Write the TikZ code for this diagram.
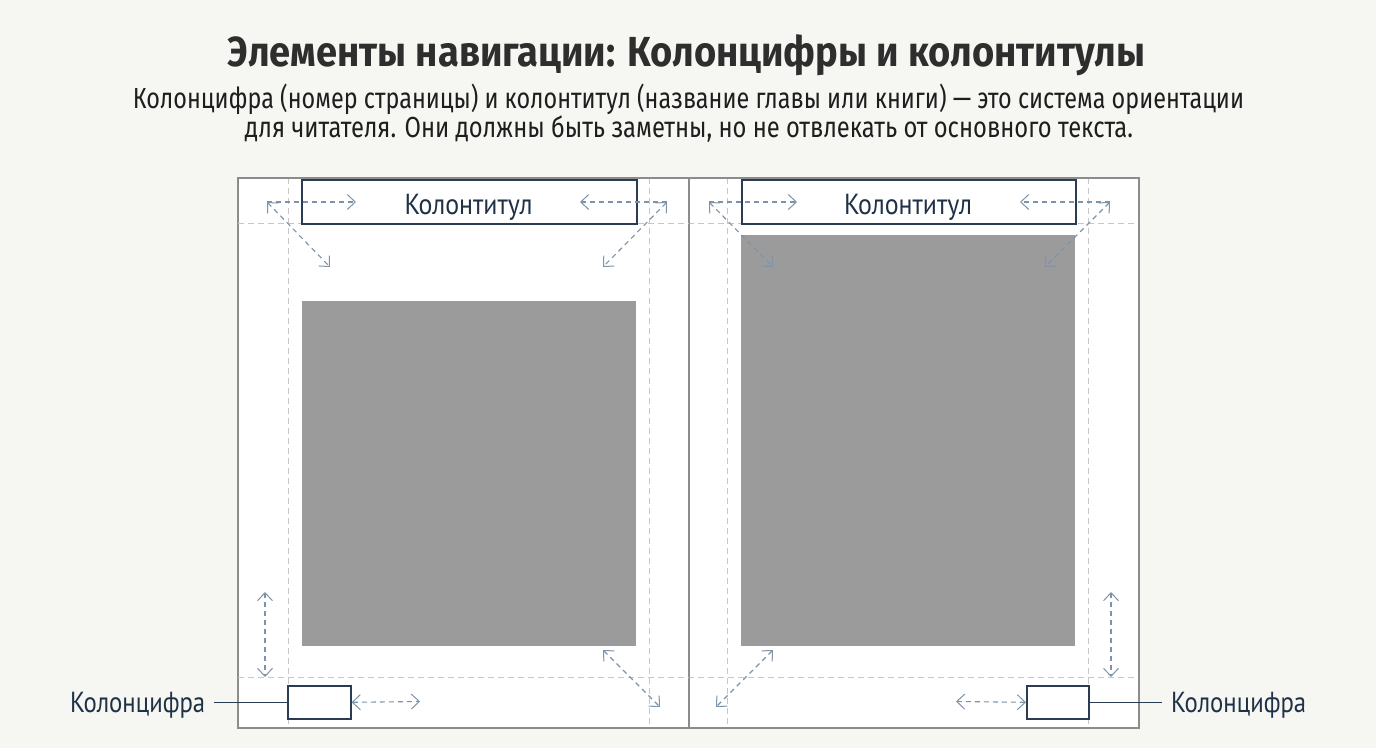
\documentclass[tikz,border=0pt]{standalone}
\usepackage{fontspec}
\setmainfont{Fira Sans}
\newfontfamily\labfont{PT Sans}
\usetikzlibrary{arrows.meta}
\definecolor{bgc}{HTML}{F6F6F3}
\definecolor{titlec}{HTML}{2E2E2E}
\definecolor{subc}{HTML}{1E1E1E}
\definecolor{navy}{HTML}{2A3C52}
\definecolor{labc}{HTML}{1F3146}
\definecolor{pagec}{HTML}{8C8C8C}
\definecolor{guidec}{HTML}{C6C6C6}
\definecolor{arrowc}{HTML}{7E93A8}
\definecolor{blockc}{HTML}{9B9B9B}
\newcommand{\fitw}[2]{\resizebox{#1}{\height}{#2}}
\begin{document}
\begin{tikzpicture}[x=1pt,y=-1pt,
  pagebox/.style={draw=pagec, line width=1.4pt, fill=white, anchor=north west, inner sep=0pt},
  navybox/.style={draw=navy, line width=1.8pt, fill=white, anchor=north west, inner sep=0pt},
  textblock/.style={fill=blockc, anchor=north west, inner sep=0pt},
  guide/.style={draw=guidec, line width=0.9pt, dash pattern=on 6pt off 4pt},
  dimarrow/.style={draw=arrowc, line width=1.1pt, dash pattern=on 5pt off 4pt,
    arrows={Straight Barb[length=8pt,width=15pt,line width=1pt]-Straight Barb[length=8pt,width=15pt,line width=1pt]}},
  onearrow/.style={draw=arrowc, line width=1.1pt, dash pattern=on 5pt off 4pt,
    arrows={-Straight Barb[length=8pt,width=15pt,line width=1pt]}},
  lbl/.style={text=labc, font=\labfont\fontsize{29}{32}\selectfont, inner sep=0pt},
  leader/.style={draw=navy, line width=1.2pt}
]
\useasboundingbox (0,0) rectangle (1376,748);
\fill[bgc] (0,0) rectangle (1376,748);

% title and subtitle
\node[anchor=base, text=titlec, font=\bfseries\fontsize{42}{46}\selectfont, inner sep=0pt] (title) at (686.5,66)
  {\fitw{917pt}{Элементы навигации: Колонцифры и колонтитулы}};
\node[anchor=base, text=subc, font=\fontsize{29}{32}\selectfont, inner sep=0pt] (sub1) at (688.5,108)
  {\fitw{1111pt}{Колонцифра (номер страницы) и колонтитул (название главы или книги) — это система ориентации}};
\node[anchor=base, text=subc, font=\fontsize{29}{32}\selectfont, inner sep=0pt] (sub2) at (689,137)
  {\fitw{888pt}{для читателя. Они должны быть заметны, но не отвлекать от основного текста.}};

% pages
\node[pagebox, minimum width=450.5pt, minimum height=549pt] (lp) at (237.5,178) {};
\node[pagebox, minimum width=450pt, minimum height=549pt] (rp) at (688,178) {};

% guides left page
\draw[guide] (288,178) -- (288,727);
\draw[guide] (649,178) -- (649,727);
\draw[guide] (238,223) -- (688,223);
\draw[guide] (238,677) -- (688,677);
% guides right page
\draw[guide] (727,178) -- (727,727);
\draw[guide] (1088,178) -- (1088,727);
\draw[guide] (688,223) -- (1138,223);
\draw[guide] (688,677) -- (1138,677);
\draw[pagec, line width=1.4pt] (lp.north west) rectangle (rp.south east);
\draw[pagec, line width=1.4pt] (lp.north east) -- (lp.south east);

% text blocks
\node[textblock, minimum width=334pt, minimum height=345pt] (lb) at (301.5,301) {};
\node[textblock, minimum width=334pt, minimum height=411pt] (rb) at (741,235) {};

% header boxes
\node[navybox, minimum width=335pt, minimum height=44pt] (lh) at (301,179) {};
\node[navybox, minimum width=334pt, minimum height=44pt] (rh) at (741,179) {};
\node[lbl, anchor=base] (lht) at (468.5,214) {\fitw{128pt}{Колонтитул}};
\node[lbl, anchor=base] (rht) at (908,214) {\fitw{128pt}{Колонтитул}};

% folio boxes
\node[navybox, line width=1.6pt, minimum width=63pt, minimum height=33pt] (lf) at (287,685) {};
\node[navybox, line width=1.6pt, minimum width=62pt, minimum height=33pt] (rf) at (1026,685) {};
\node[lbl, anchor=base west] (lft) at (70,712) {\fitw{135pt}{Колонцифра}};
\node[lbl, anchor=base west] (rft) at (1171,712) {\fitw{135pt}{Колонцифра}};
\draw[leader] (lf.west) -- ([xshift=9pt]lft.east |- lf.west);
\draw[leader] (rf.east) -- ([xshift=-9pt]rft.west |- rf.east);

% arrow coordinates, left page
\coordinate (a1) at (267,202);
\coordinate (a2) at (356,202);
\coordinate (a3) at (330,267);
\coordinate (a4) at (667,202);
\coordinate (a5) at (580,202);
\coordinate (a6) at (603,267);
\coordinate (a7) at (265,592);
\coordinate (a8) at (265,677);
\coordinate (a9) at (420,701.5);
\coordinate (a10) at (603,650);
\coordinate (a11) at (660,707);
% right page
\coordinate (b1) at (709,202);
\coordinate (b2) at (797,202);
\coordinate (b3) at (773,267);
\coordinate (b4) at (1110,202);
\coordinate (b5) at (1020,202);
\coordinate (b6) at (1045,267);
\coordinate (b7) at (1111,592);
\coordinate (b8) at (1111,677);
\coordinate (b9) at (956,701.5);
\coordinate (b10) at (773,650);
\coordinate (b11) at (716,707);

\draw[onearrow] (a1) -- (a2);
\draw[dimarrow] (a1) -- (a3);
\draw[onearrow] (a4) -- (a5);
\draw[dimarrow] (a4) -- (a6);
\draw[dimarrow] (a7) -- (a8);
\draw[dimarrow] (lf.east) -- (a9);
\draw[dimarrow] (a10) -- (a11);

\draw[onearrow] (b1) -- (b2);
\draw[dimarrow] (b1) -- (b3);
\draw[onearrow] (b4) -- (b5);
\draw[dimarrow] (b4) -- (b6);
\draw[dimarrow] (b7) -- (b8);
\draw[dimarrow] (rf.west) -- (b9);
\draw[dimarrow] (b10) -- (b11);
\end{tikzpicture}
\end{document}
